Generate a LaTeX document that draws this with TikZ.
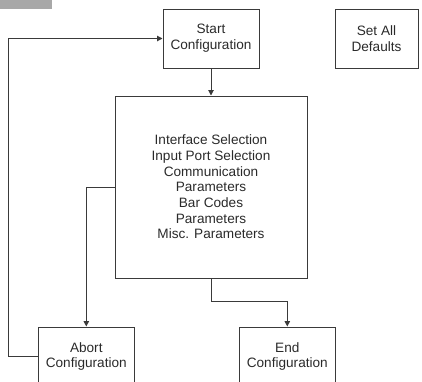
\documentclass[tikz,border=0pt]{standalone}
\usepackage{fontspec}
\setmainfont{Liberation Sans}
\usetikzlibrary{arrows.meta,positioning}
\definecolor{Edge}{HTML}{3A3A3A}
\definecolor{Ink}{HTML}{2A2A2A}
\definecolor{Tab}{HTML}{A8A8A8}

\begin{document}
\begin{tikzpicture}[x=1pt,y=-1pt,
    stage/.style={draw=Edge,line width=1pt,minimum width=96pt,
      minimum height=59pt,inner sep=0pt,align=center,text=Ink,
      font=\fontsize{13.6}{15.7}\selectfont},
    flow/.style={draw=Edge,line width=1pt,-{Triangle[length=5.5pt,width=5.5pt]}}
  ]
    \clip (0,0) rectangle (422,381);
    \fill[Tab] (0,0) rectangle (52,9);
    \node[stage] (start) at (211,38.5) {Start\\Configuration};
    \node[stage,minimum width=83pt] (defaults) at (376.5,38.5) {Set All\\Defaults};
    \node[stage,minimum width=192pt,minimum height=182pt] (params) at (211,187)
      {Interface Selection\\Input Port Selection\\Communication\\Parameters\\
       Bar Codes\\Parameters\\Misc. Parameters};
    \node[stage] (abort) at (86.3,356.5) {Abort\\Configuration};
    \node[stage] (finish) at (287.3,356.5) {End\\Configuration};
    % connectors
    \draw[flow] (start) -- (params);
    \draw[flow] (params.west) -| (abort.north);
    \draw[flow] (params.south) -- ++(0,23) -| (finish.north);
    \draw[flow] (abort.west) -- ++(-29.3,0) |- (start.west);
  \end{tikzpicture}
\end{document}
